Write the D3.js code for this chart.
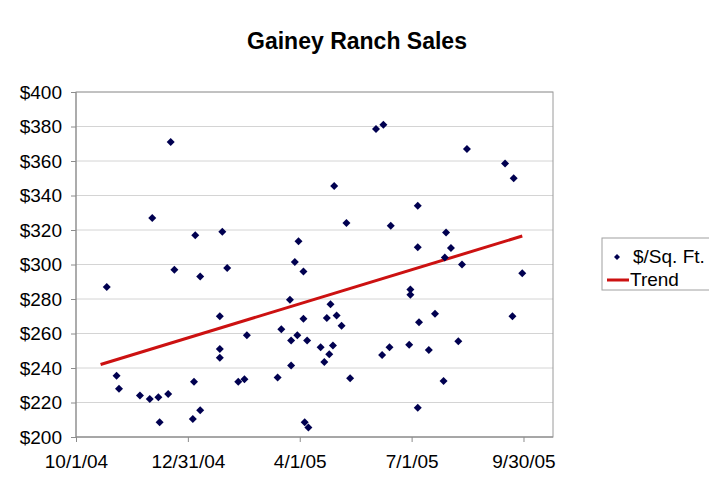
<!DOCTYPE html>
<html>
<head>
<meta charset="utf-8">
<script src="https://cdn.jsdelivr.net/npm/d3@7"></script>
<style>
  body { margin: 0; background: #fff; }
  svg { display: block; font-family: "Liberation Sans", Arial, sans-serif; }
  .axis path, .axis line { stroke: #8c8c8c; }
  .axis text { fill: #000; font-size: 19px; }
</style>
</head>
<body>
<div id="chart"></div>
<script>
// Sale dates and price per square foot
const saleDates = [
  "2004-10-26", "2004-11-03", "2004-11-05", "2004-11-22", "2004-11-30",
  "2004-12-02", "2004-12-07", "2004-12-08", "2004-12-15", "2004-12-17",
  "2004-12-20", "2005-01-04", "2005-01-05", "2005-01-06", "2005-01-10",
  "2005-01-10", "2005-01-26", "2005-01-26", "2005-01-26", "2005-01-28",
  "2005-02-01", "2005-02-10", "2005-02-15", "2005-02-17", "2005-03-14",
  "2005-03-17", "2005-03-24", "2005-03-25", "2005-03-25", "2005-03-28",
  "2005-03-30", "2005-03-31", "2005-04-04", "2005-04-04", "2005-04-05",
  "2005-04-07", "2005-04-08", "2005-04-18", "2005-04-21", "2005-04-23",
  "2005-04-25", "2005-04-26", "2005-04-28", "2005-04-29", "2005-05-01",
  "2005-05-05", "2005-05-09", "2005-05-12", "2005-06-02", "2005-06-07",
  "2005-06-08", "2005-06-13", "2005-06-14", "2005-06-29", "2005-06-30",
  "2005-06-30", "2005-07-06", "2005-07-06", "2005-07-06", "2005-07-07",
  "2005-07-15", "2005-07-20", "2005-07-27", "2005-07-28", "2005-07-29",
  "2005-08-02", "2005-08-08", "2005-08-11", "2005-08-15", "2005-09-15",
  "2005-09-21", "2005-09-22", "2005-09-29"
];
const pricePerSqFt = [
  287, 235.5, 228, 224, 222,
  327, 223, 208.5, 225, 371,
  297, 210.5, 232, 317, 293,
  215.5, 270, 251, 246, 319,
  298, 232, 233.5, 259, 234.5,
  262.5, 279.5, 256, 241.5, 301.5,
  259, 313.5, 296, 268.5, 208.5,
  256, 205.5, 252, 243.5, 269,
  248, 277, 253, 345.5, 270.5,
  264.5, 324, 234, 378.5, 247.5,
  381, 252, 322.5, 253.5, 285.5,
  282.5, 334, 310, 217, 266.5,
  250.5, 271.5, 232.5, 304, 318.5,
  309.5, 255.5, 300, 367, 358.5,
  270, 350, 295
];

// Linear trend line end points as drawn
const trendDates = ["2004-10-21", "2005-09-29"];
const trendValues = [242, 316.5];

const xTickDates = ["2004-10-01", "2004-12-31", "2005-04-01", "2005-07-01", "2005-09-30"];
const yTickValues = [200, 220, 240, 260, 280, 300, 320, 340, 360, 380, 400];

const width = 709, height = 487;
const margin = { top: 92, right: 156, bottom: 50, left: 76 };
const innerW = width - margin.left - margin.right;
const innerH = height - margin.top - margin.bottom;

const parse = d3.utcParse("%Y-%m-%d");
const points = saleDates.map((d, i) => ({ date: parse(d), value: pricePerSqFt[i] }));
const trend = trendDates.map((d, i) => ({ date: parse(d), value: trendValues[i] }));

const svg = d3.select("#chart").append("svg")
  .attr("width", width)
  .attr("height", height);

svg.append("text")
  .attr("x", 357)
  .attr("y", 49)
  .attr("text-anchor", "middle")
  .style("font-size", "23px")
  .style("font-weight", "bold")
  .text("Gainey Ranch Sales");

const chart = svg.append("g")
  .attr("transform", `translate(${margin.left},${margin.top})`);

const x = d3.scaleUtc()
  .domain([parse("2004-10-01"), parse("2005-10-24")])
  .range([0, innerW]);
const y = d3.scaleLinear()
  .domain([200, 400])
  .range([innerH, 0]);

// gridlines
chart.selectAll(".grid")
  .data(yTickValues)
  .enter()
  .append("line")
  .attr("class", "grid")
  .attr("x1", 0)
  .attr("x2", innerW)
  .attr("y1", d => y(d))
  .attr("y2", d => y(d))
  .attr("stroke", "#d4d4d4")
  .attr("stroke-width", 1);

// plot area border
chart.append("rect")
  .attr("width", innerW)
  .attr("height", innerH)
  .attr("fill", "none")
  .attr("stroke", "#9a9a9a")
  .attr("stroke-width", 1);

const xAxis = d3.axisBottom(x)
  .tickValues(xTickDates.map(parse))
  .tickFormat(d3.utcFormat("%-m/%-d/%y"))
  .tickSize(5)
  .tickPadding(13);
chart.append("g")
  .attr("class", "axis")
  .attr("transform", `translate(0,${innerH})`)
  .call(xAxis)
  .call(g => g.select(".domain").attr("d", `M0,0H${innerW}`));

const yAxis = d3.axisLeft(y)
  .tickValues(yTickValues)
  .tickFormat(d => "$" + d)
  .tickSize(5)
  .tickPadding(9);
chart.append("g")
  .attr("class", "axis")
  .call(yAxis)
  .call(g => g.select(".domain").attr("d", `M0,0V${innerH}`));

// trend line
const line = d3.line()
  .x(d => x(d.date))
  .y(d => y(d.value));
chart.append("path")
  .datum(trend)
  .attr("d", line)
  .attr("fill", "none")
  .attr("stroke", "#cc1111")
  .attr("stroke-width", 3);

// diamond markers
const diamond = "M0,-4L4,0L0,4L-4,0Z";
chart.selectAll(".pt")
  .data(points)
  .enter()
  .append("path")
  .attr("class", "pt")
  .attr("d", diamond)
  .attr("transform", d => `translate(${x(d.date)},${y(d.value)})`)
  .attr("fill", "#000050");

// legend
const legend = svg.append("g").attr("transform", "translate(602,238)");
legend.append("rect")
  .attr("width", 112)
  .attr("height", 52)
  .attr("fill", "#fff")
  .attr("stroke", "#a0a0a0");
legend.append("path")
  .attr("d", "M0,-3L3,0L0,3L-3,0Z")
  .attr("transform", "translate(15,19)")
  .attr("fill", "#000050");
legend.append("text")
  .attr("x", 31)
  .attr("y", 25)
  .style("font-size", "19px")
  .text("$/Sq. Ft.");
legend.append("line")
  .attr("x1", 5).attr("x2", 27)
  .attr("y1", 42).attr("y2", 42)
  .attr("stroke", "#cc1111")
  .attr("stroke-width", 3);
legend.append("text")
  .attr("x", 28)
  .attr("y", 48)
  .style("font-size", "19px")
  .text("Trend");
</script>
</body>
</html>
